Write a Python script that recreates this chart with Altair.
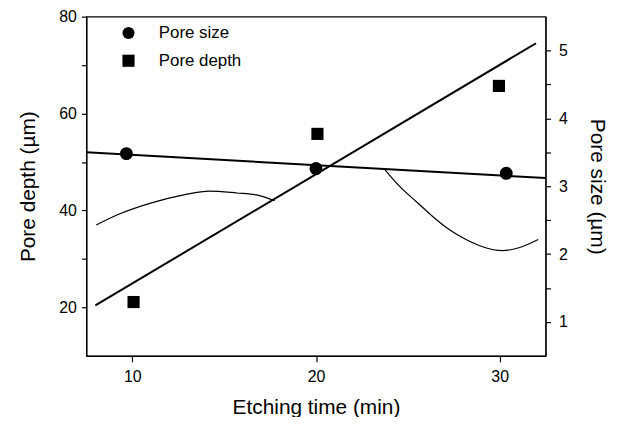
import altair as alt
import pandas as pd

# ---- data ----
time_size = [9.68, 20.0, 30.36]
pore_size = [3.48, 3.26, 3.19]

time_depth = [10.07, 20.08, 29.96]
pore_depth = [21.1, 55.8, 65.7]

depth_fit_x = [7.99, 31.98]
depth_fit_y = [20.4, 74.5]

size_fit_x = [7.5, 32.5]
size_fit_y = [3.50, 3.12]

curve_x = [8.04, 9.2, 11.0, 12.8, 14.2, 15.7, 16.75, 17.75,
           23.76, 24.57, 25.47, 26.37, 27.27, 28.17, 29.07, 30.15, 31.05, 32.1]
curve_y = [37.0, 39.1, 41.5, 43.2, 44.0, 43.6, 43.2, 42.0,
           48.4, 44.9, 41.8, 38.7, 36.0, 34.0, 32.5, 31.7, 32.3, 34.0]
curve_seg = ["a"] * 8 + ["b"] * 10

series_names = ["Pore size", "Pore depth"]
series_shapes = ["circle", "square"]

FONT = "Liberation Sans"

size_df = pd.DataFrame({"t": time_size, "v": pore_size, "s": ["Pore size"] * 3})
depth_df = pd.DataFrame({"t": time_depth, "v": pore_depth, "s": ["Pore depth"] * 3})
depth_fit_df = pd.DataFrame({"t": depth_fit_x, "v": depth_fit_y})
size_fit_df = pd.DataFrame({"t": size_fit_x, "v": size_fit_y})
curve_df = pd.DataFrame({"t": curve_x, "v": curve_y, "g": curve_seg})

x_enc = alt.X("t:Q", scale=alt.Scale(domain=[7.5, 32.5], nice=False, zero=False),
              axis=alt.Axis(title="Etching time (min)", values=[10, 20, 30],
                            tickSize=6, labelPadding=7, titlePadding=12))

shape_scale = alt.Scale(domain=series_names, range=series_shapes)
legend = alt.Legend(title=None, orient="none", legendX=34, legendY=8,
                    symbolSize=150, symbolFillColor="black", symbolStrokeColor="black",
                    symbolOpacity=1, labelFontSize=17, labelFont=FONT, labelColor="black",
                    labelOffset=22, rowPadding=9, padding=0)

y_left_scale = alt.Scale(domain=[10, 80], nice=False, zero=False)
y_left_axis = alt.Axis(title="Pore depth (\u00b5m)", values=[20, 30, 40, 50, 60, 70, 80],
                       labelExpr="datum.value % 20 == 0 ? format(datum.value, 'd') : ''",
                       tickSize=5, labelPadding=5, titlePadding=20, orient="left")

depth_pts = alt.Chart(depth_df).mark_point(filled=True, size=150, opacity=1, color="black").encode(
    x=x_enc,
    y=alt.Y("v:Q", scale=y_left_scale, axis=y_left_axis),
    shape=alt.Shape("s:N", scale=shape_scale, legend=legend),
)
depth_line = alt.Chart(depth_fit_df).mark_line(color="black", strokeWidth=2).encode(
    x="t:Q", y="v:Q")
curve_line = alt.Chart(curve_df).mark_line(color="black", strokeWidth=1.2, interpolate="monotone").encode(
    x="t:Q", y="v:Q", detail="g:N")

left = alt.layer(depth_pts, depth_line, curve_line)

y_right_scale = alt.Scale(domain=[0.5, 5.5], nice=False, zero=False)
y_right_axis = alt.Axis(title="Pore size (\u00b5m)", orient="right",
                        values=[1, 1.5, 2, 2.5, 3, 3.5, 4, 4.5, 5],
                        labelExpr="datum.value % 1 == 0 ? format(datum.value, 'd') : ''",
                        tickSize=5, labelPadding=8, titlePadding=19)

size_pts = alt.Chart(size_df).mark_point(filled=True, size=170, opacity=1, color="black").encode(
    x=x_enc,
    y=alt.Y("v:Q", scale=y_right_scale, axis=y_right_axis),
    shape=alt.Shape("s:N", scale=shape_scale, legend=legend),
)
size_line = alt.Chart(size_fit_df).mark_line(color="black", strokeWidth=2).encode(
    x="t:Q", y="v:Q")

right = alt.layer(size_pts, size_line)

chart = alt.layer(left, right).resolve_scale(y="independent").properties(
    width=463, height=342,
    autosize=alt.AutoSizeParams(type="none"),
    padding={"left": 79, "top": 7, "right": 70, "bottom": 60},
).configure_view(
    stroke="black", strokeWidth=1.2
).configure_axis(
    grid=False, domainColor="black", domainWidth=1.2, tickColor="black", tickWidth=1.2,
    labelFont=FONT, labelFontSize=16, labelColor="black",
    titleFont=FONT, titleFontSize=21, titleFontWeight="normal", titleColor="black",
)

chart.save("out.html", embed_options={"renderer": "svg", "actions": False})
